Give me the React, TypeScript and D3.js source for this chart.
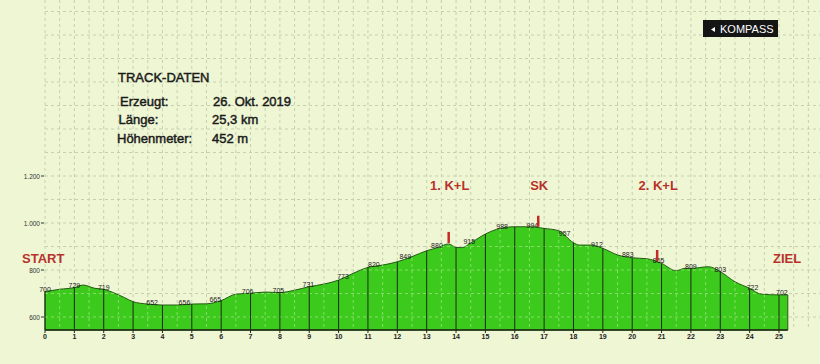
import React, { useEffect, useRef } from 'react';
import * as d3 from 'd3';

// profile (km, elevation in m)
const profileKm = [0, 0.5, 1, 1.3, 1.7, 2, 2.3, 2.7, 3, 3.5, 4, 4.5, 5, 5.5, 6, 6.5, 7, 7.5, 8, 8.5, 9, 9.5, 10, 10.5, 11, 11.5, 12, 12.5, 13, 13.4, 13.75, 14, 14.2, 14.5, 15, 15.5, 16, 16.5, 17, 17.5, 18, 18.2, 18.6, 19, 19.5, 20, 20.5, 21, 21.5, 21.8, 22, 22.6, 23, 23.5, 24, 24.4, 25, 25.3];
const profileElev = [708, 718, 725, 736, 722, 718, 705, 683, 665, 655, 651, 651, 655, 656, 670, 697, 701, 706, 704, 714, 729, 740, 757, 786, 811, 821, 835, 857, 882, 896, 911, 896, 895, 915, 953, 977, 984, 984, 977, 967, 916, 906, 906, 892, 864, 852, 848, 828, 797, 807, 807, 814, 793, 750, 722, 697, 694, 694];

// printed spot heights
const spotKm = [0, 1, 2, 3.65, 4.75, 5.8, 6.9, 7.95, 8.97, 10.15, 11.2, 12.27, 13.35, 14.45, 15.57, 16.6, 17.7, 18.8, 19.85, 20.9, 22, 23, 24.1, 25.1];
const spotLabels = ['700', '729', '719', '652', '656', '665', '706', '705', '731', '773', '820', '849', '880', '915', '988', '994', '957', '912', '883', '865', '809', '803', '722', '702'];

// stops along the route
const stopKm = [13.75, 16.8, 20.85];
const stopLabels = ['1. K+L', 'SK', '2. K+L'];

const kmTicks = d3.range(0, 26);
const elevTicks = [600, 800, 1000, 1200];
const elevTickLabels = ['600', '800', '1.000', '1.200'];

const infoKeys = ['Erzeugt:', 'Länge:', 'Höhenmeter:'];
const infoValues = ['26. Okt. 2019', '25,3 km', '452 m'];

const W = 820;
const H = 364;
const FONT = "'Liberation Sans', Arial, sans-serif";

const App = () => {
  const svgRef = useRef<SVGSVGElement>(null);

  useEffect(() => {
    const svg = d3.select(svgRef.current);
    svg.selectAll('*').remove();

    const x = d3.scaleLinear().domain([0, 25]).range([45, 779]);
    const y = d3.scaleLinear().domain([600, 1200]).range([317, 176]);
    const baseElev = y.invert(330);

    const data = profileKm.map((k, i) => ({ km: k, elev: profileElev[i] }));
    const bis = d3.bisector((d: any) => d.km).left;
    const elevAt = (k: number) => {
      const i = Math.max(1, Math.min(data.length - 1, bis(data, k)));
      const a = data[i - 1], b = data[i];
      return a.elev + (b.elev - a.elev) * (k - a.km) / (b.km - a.km);
    };

    // background
    svg.append('rect').attr('width', W).attr('height', H).attr('fill', '#eef6d4');

    // grid
    const grid = svg.append('g').attr('stroke', '#c6d0b0').attr('stroke-width', 1).attr('stroke-dasharray', '3,3');
    d3.range(0, 26.6, 0.5).forEach(k => {
      grid.append('line').attr('x1', x(k)).attr('x2', x(k)).attr('y1', 0).attr('y2', 330);
    });
    d3.range(600, 2000, 100).forEach(e => {
      grid.append('line').attr('x1', x(0)).attr('x2', W).attr('y1', y(e)).attr('y2', y(e));
    });

    // area
    const area = d3.area<any>()
      .x(d => x(d.km))
      .y0(y(baseElev))
      .y1(d => y(d.elev))
      .curve(d3.curveMonotoneX);

    svg.append('defs').append('clipPath').attr('id', 'fillclip')
      .append('path').datum(data).attr('d', area);

    svg.append('path').datum(data)
      .attr('fill', '#3ccb1d')
      .attr('stroke', '#245a14')
      .attr('stroke-width', 1)
      .attr('d', area);

    // lighter grid inside the fill
    const igrid = svg.append('g').attr('clip-path', 'url(#fillclip)')
      .attr('stroke', '#86dc66').attr('stroke-width', 1).attr('stroke-dasharray', '3,3');
    d3.range(0.5, 25.5, 0.5).filter(k => k % 1 !== 0).forEach(k => {
      igrid.append('line').attr('x1', x(k)).attr('x2', x(k)).attr('y1', 150).attr('y2', 330);
    });
    d3.range(600, 1000, 100).forEach(e => {
      igrid.append('line').attr('x1', x(0)).attr('x2', x(25.3)).attr('y1', y(e)).attr('y2', y(e));
    });

    // km lines inside fill
    kmTicks.forEach(k => {
      svg.append('line')
        .attr('x1', x(k)).attr('x2', x(k))
        .attr('y1', y(elevAt(k))).attr('y2', 333)
        .attr('stroke', '#1d2a14').attr('stroke-width', 1);
    });

    // baseline
    svg.append('line').attr('x1', x(0)).attr('x2', x(25.3))
      .attr('y1', 330).attr('y2', 330).attr('stroke', '#1d2a14').attr('stroke-width', 1.5);

    // km tick labels
    svg.append('g').selectAll('text').data(kmTicks).join('text')
      .attr('x', d => x(d)).attr('y', 338.5)
      .attr('text-anchor', 'middle')
      .attr('font-family', FONT).attr('font-size', 7).attr('font-weight', 'bold')
      .attr('fill', '#222')
      .text(d => d);

    // elevation axis
    const yAx = svg.append('g');
    elevTicks.forEach((e, i) => {
      yAx.append('line').attr('x1', 41).attr('x2', 44).attr('y1', y(e)).attr('y2', y(e))
        .attr('stroke', '#333').attr('stroke-width', 1);
      yAx.append('text').attr('x', 40).attr('y', y(e) + 2.5)
        .attr('text-anchor', 'end')
        .attr('font-family', FONT).attr('font-size', 6.5)
        .attr('fill', '#333')
        .text(elevTickLabels[i]);
    });

    // spot heights
    svg.append('g').selectAll('text').data(spotKm).join('text')
      .attr('x', d => x(d)).attr('y', d => y(elevAt(d)) + 0.5)
      .attr('text-anchor', 'middle')
      .attr('font-family', FONT).attr('font-size', 7)
      .attr('fill', '#1a1a1a')
      .text((d, i) => spotLabels[i]);

    // stop markers + labels
    stopKm.forEach((k, i) => {
      const cy = y(elevAt(k));
      svg.append('line').attr('x1', x(k)).attr('x2', x(k))
        .attr('y1', cy - 12).attr('y2', cy - 1)
        .attr('stroke', '#c42a26').attr('stroke-width', 2.5);
      svg.append('text').attr('x', x(k) + 1).attr('y', 190)
        .attr('text-anchor', 'middle')
        .attr('font-family', FONT).attr('font-size', 13).attr('font-weight', 'bold')
        .attr('fill', '#b9312c')
        .text(stopLabels[i]);
    });

    svg.append('text').attr('x', 22).attr('y', 262.5)
      .attr('font-family', FONT).attr('font-size', 13).attr('font-weight', 'bold')
      .attr('fill', '#b9312c').text('START');
    svg.append('text').attr('x', 773).attr('y', 262.5)
      .attr('font-family', FONT).attr('font-size', 13).attr('font-weight', 'bold')
      .attr('fill', '#b9312c').text('ZIEL');

    // track info
    const infoText = (sel: any) => sel
      .attr('font-family', FONT).attr('font-size', 13).attr('fill', '#1a1a1a')
      .attr('stroke', '#1a1a1a').attr('stroke-width', 0.45);
    svg.append('text').attr('x', 118).attr('y', 81.5).call(infoText).text('TRACK-DATEN');
    infoKeys.forEach((t, i) => {
      svg.append('text').attr('x', 120 - i * 1.5).attr('y', 106 + i * 18.3).call(infoText).text(t);
      svg.append('text').attr('x', 213 - (i > 0 ? 1 : 0)).attr('y', 106 + i * 18.3).call(infoText).text(infoValues[i]);
    });

    // KOMPASS button
    svg.append('rect').attr('x', 703).attr('y', 20).attr('width', 75).attr('height', 17)
      .attr('fill', '#151515');
    svg.append('path').attr('d', 'M711,29.5 L715,27 L715,32 Z').attr('fill', '#fff');
    svg.append('text').attr('x', 720).attr('y', 32.5)
      .attr('font-family', FONT).attr('font-size', 11).attr('fill', '#fff')
      .text('KOMPASS');
  }, []);

  return (
    <svg ref={svgRef} width={W} height={H}
      style={{ position: 'absolute', left: 0, top: 0, display: 'block' }} />
  );
};

export default App;
